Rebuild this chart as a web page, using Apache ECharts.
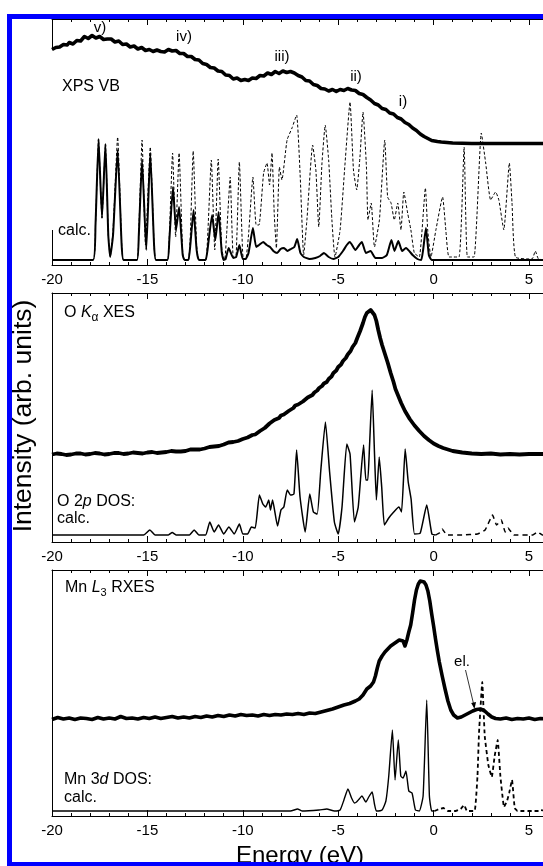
<!DOCTYPE html>
<html>
<head>
<meta charset="utf-8">
<script src="https://cdn.jsdelivr.net/npm/echarts@6/dist/echarts.min.js"></script>
<style>
  html, body { margin: 0; padding: 0; background: #fff; overflow: hidden; }
  #chart { width: 660px; height: 866px; }
</style>
</head>
<body>
<div id="chart"></div>
<script>
// ---- Energy axis (eV) ----
const energyMin = -20;
const energyMax = 10;
const energyStep = 5;

// ---- Top panel: valence-band photoemission and calculated spectra ----
const xpsVB = [[-20,215.5],[-19.9,217.5],[-19.8,217.5],[-19.7,216.5],[-19.6,218],[-19.5,220],[-19.4,220.5],[-19.3,219],[-19.2,220],[-19.1,222.5],[-19,222.5],[-18.9,221],[-18.8,222],[-18.7,224.5],[-18.6,225],[-18.5,224],[-18.4,226],[-18.3,228.5],[-18.2,228.5],[-18.1,226.5],[-18,227.5],[-17.9,229.5],[-17.8,229],[-17.7,227],[-17.6,228],[-17.5,228.5],[-17.4,227.5],[-17.3,225.5],[-17.2,226],[-17.1,226],[-17,224.5],[-16.9,226],[-16.8,225],[-16.7,223],[-16.6,222],[-16.5,224],[-16.4,222.5],[-16.3,220.5],[-16.2,219.5],[-16.1,221],[-16,220],[-15.9,218],[-15.8,217.5],[-15.7,219],[-15.6,218],[-15.5,216],[-15.4,216],[-15.3,217.5],[-15.2,216.5],[-15.1,214.5],[-15,215],[-14.9,215.5],[-14.8,214],[-14.7,213.5],[-14.6,215],[-14.5,215],[-14.4,213.5],[-14.3,213.5],[-14.2,214.5],[-14.1,213],[-14,214],[-13.9,215.5],[-13.8,215.5],[-13.7,214],[-13.6,214.5],[-13.5,214.5],[-13.4,213],[-13.3,211.5],[-13.2,211.5],[-13.1,211.5],[-13,210.5],[-12.9,208.5],[-12.8,208],[-12.7,208.5],[-12.6,207.5],[-12.5,205.5],[-12.4,205],[-12.3,205],[-12.2,203.5],[-12.1,201.5],[-12,200.5],[-11.9,200.5],[-11.8,199.5],[-11.7,197.5],[-11.6,197],[-11.5,197],[-11.4,196],[-11.3,194],[-11.2,193.5],[-11.1,193.5],[-11,192.5],[-10.9,190],[-10.8,189.5],[-10.7,189.5],[-10.6,188],[-10.5,186],[-10.4,186],[-10.3,187],[-10.2,186.5],[-10.1,184.5],[-10,184.5],[-9.9,185.5],[-9.8,185],[-9.7,184.5],[-9.6,185.5],[-9.5,187],[-9.4,187],[-9.3,186.5],[-9.2,188],[-9.1,189.5],[-9,189.5],[-8.9,189],[-8.8,190.5],[-8.7,192],[-8.6,192],[-8.5,190.5],[-8.4,191.5],[-8.3,193.5],[-8.2,193],[-8.1,191.5],[-8,192.5],[-7.9,194],[-7.8,193.5],[-7.7,192.5],[-7.6,194],[-7.5,193.5],[-7.4,192.5],[-7.3,192],[-7.2,191],[-7.1,189.5],[-7,188.5],[-6.9,188],[-6.8,186.5],[-6.7,184.5],[-6.6,183.5],[-6.5,184],[-6.4,182.5],[-6.3,180.5],[-6.2,180],[-6.1,179.5],[-6,178],[-5.9,176.5],[-5.8,176.5],[-5.7,176],[-5.6,175],[-5.5,174],[-5.4,175.5],[-5.3,175.5],[-5.2,174],[-5.1,173.5],[-5,174.5],[-4.9,175.5],[-4.8,175],[-4.7,174.5],[-4.6,175.5],[-4.5,176.5],[-4.4,176],[-4.3,175],[-4.2,174.5],[-4.1,174.5],[-4,173],[-3.9,171.5],[-3.8,171.5],[-3.7,170.5],[-3.6,169],[-3.5,167.5],[-3.4,166],[-3.3,165],[-3.2,163.5],[-3.1,161.5],[-3,160.5],[-2.9,160],[-2.8,158.5],[-2.7,156.5],[-2.6,156],[-2.5,155.5],[-2.4,154],[-2.3,152],[-2.2,151.5],[-2.1,151],[-2,149.5],[-1.9,147.5],[-1.8,147],[-1.7,146],[-1.6,144.5],[-1.5,142.5],[-1.4,141.5],[-1.3,140.5],[-1.2,139],[-1.1,137],[-1,135.5],[-0.9,134.5],[-0.8,132.5],[-0.7,131],[-0.6,130],[-0.5,128.5],[-0.4,127.5],[-0.3,126.5],[-0.2,125.5],[-0.1,124.5],[0,124.5],[0.2,123.5],[0.4,123],[0.7,122.5],[1,122],[1.5,121.7],[2,121.5],[3,121.5],[4,121.5],[5,121.5],[6,121.5]];

const vbCalcPartial = [[-20,5],[-17.85,5],[-17.72,40],[-17.56,126],[-17.38,47],[-17.2,121],[-17.05,30],[-16.95,8],[-16.8,30],[-16.56,115],[-16.35,20],[-16.25,5],[-15.55,5],[-15.45,30],[-15.28,105],[-15.06,15],[-14.85,112],[-14.65,20],[-14.55,5],[-13.95,5],[-13.85,25],[-13.66,78],[-13.5,35],[-13.34,58],[-13.15,10],[-13.05,5],[-12.85,5],[-12.75,20],[-12.58,55],[-12.42,15],[-12.3,5],[-11.95,5],[-11.85,15],[-11.61,50],[-11.44,25],[-11.27,53],[-11.1,12],[-11,5],[-10.9,6],[-10.74,17],[-10.5,7],[-10.35,8],[-10.18,20],[-10,6],[-9.85,6],[-9.7,12],[-9.47,37],[-9.3,18],[-9.15,20],[-8.93,23],[-8.75,20],[-8.57,18],[-8.4,14],[-8.2,12],[-8.02,16],[-7.84,17],[-7.66,14],[-7.48,16],[-7.3,18],[-7.15,26],[-6.98,12],[-6.8,8],[-6.5,6],[-6.2,7],[-5.95,9],[-5.75,12],[-5.5,8],[-5.25,6],[-5,8],[-4.75,14],[-4.55,20],[-4.39,23],[-4.1,15],[-3.9,20],[-3.76,23],[-3.55,12],[-3.3,14],[-3.05,7],[-2.7,7],[-2.45,10],[-2.21,25],[-2.05,14],[-1.85,24],[-1.65,14],[-1.45,17],[-1.1,10],[-0.85,6],[-0.65,5],[-0.55,15],[-0.4,37],[-0.25,10],[-0.1,5],[6,5]];

const vbCalcTotal = [[-20,5],[-17.85,5],[-17.72,40],[-17.56,126],[-17.38,47],[-17.2,121],[-17.05,30],[-16.95,8],[-16.8,35],[-16.56,128],[-16.35,22],[-16.25,5],[-15.55,5],[-15.45,35],[-15.28,125],[-15.1,20],[-14.85,118],[-14.65,20],[-14.55,5],[-13.95,5],[-13.85,30],[-13.68,112],[-13.52,28],[-13.34,112],[-13.15,12],[-13.05,5],[-12.85,5],[-12.75,30],[-12.6,114],[-12.42,20],[-12.3,5],[-11.95,5],[-11.85,25],[-11.65,105],[-11.47,15],[-11.29,106],[-11.1,15],[-10.95,5],[-10.85,30],[-10.66,88],[-10.5,8],[-10.35,10],[-10.18,103],[-10,10],[-9.85,5],[-9.7,30],[-9.47,88],[-9.3,40],[-9.15,40],[-8.91,92],[-8.73,102],[-8.6,80],[-8.47,112],[-8.35,50],[-8.24,17],[-8.08,98],[-7.95,85],[-7.68,125],[-7.42,137],[-7.18,150],[-6.99,88],[-6.81,10],[-6.64,45],[-6.34,120],[-6.17,95],[-6.02,38],[-5.85,102],[-5.68,140],[-5.5,105],[-5.33,45],[-5.17,8],[-4.9,35],[-4.64,102],[-4.38,163],[-4.2,95],[-4.03,75],[-3.86,108],[-3.7,153],[-3.52,98],[-3.44,45],[-3.27,62],[-3.1,18],[-2.84,45],[-2.56,125],[-2.41,68],[-2.23,62],[-2.06,45],[-1.88,62],[-1.71,35],[-1.56,73],[-1.36,52],[-1.19,35],[-1.01,12],[-0.75,8],[-0.43,77],[-0.31,35],[-0.14,8],[0.12,35],[0.47,68],[0.64,35],[0.81,8],[1.33,8],[1.6,118],[1.77,8],[2.12,8],[2.5,132],[2.73,102],[2.99,65],[3.25,73],[3.42,65],[3.68,35],[3.97,102],[4.11,62],[4.29,8],[5.16,6],[5.33,14],[5.5,6],[6,5]];

// ---- Middle panel: O K-alpha emission and O 2p density of states ----
const oKaXES = [[-20,87.5],[-19.75,88.5],[-19.5,88],[-19.25,87],[-19,87.5],[-18.75,88.5],[-18.5,88.5],[-18.25,87.5],[-18,88],[-17.75,89],[-17.5,88.5],[-17.25,87.5],[-17,88],[-16.75,89],[-16.5,89],[-16.25,88],[-16,88.5],[-15.75,89.5],[-15.5,89],[-15.25,88.5],[-15,89.5],[-14.75,90],[-14.5,89],[-14.25,89.5],[-14,90],[-13.75,91],[-13.5,90.5],[-13.25,90.5],[-13,91],[-12.75,92.5],[-12.5,92.5],[-12.25,92.5],[-12,93.5],[-11.75,95],[-11.5,95.5],[-11.25,96],[-11,97.5],[-10.75,99.5],[-10.5,100],[-10.25,101],[-10,103],[-9.75,104.5],[-9.5,107],[-9.35,107.5],[-9.25,109],[-9.1,111],[-9,112.5],[-8.85,114],[-8.75,116],[-8.6,118.5],[-8.5,120],[-8.35,122],[-8.25,123],[-8.1,124],[-8,126.5],[-7.85,127.5],[-7.75,129.5],[-7.6,131],[-7.5,133],[-7.35,134],[-7.25,136.5],[-7.1,137.5],[-7,139.5],[-6.85,140.5],[-6.75,142],[-6.6,144.5],[-6.5,146],[-6.35,147],[-6.25,149.5],[-6.1,151.5],[-6,154],[-5.85,156],[-5.75,158.5],[-5.6,160],[-5.5,163],[-5.35,165.5],[-5.25,169],[-5.1,171.5],[-5,175],[-4.85,177.5],[-4.75,181],[-4.6,184],[-4.5,187.5],[-4.35,191],[-4.25,195],[-4.1,199],[-4,204],[-3.85,211],[-3.7,219],[-3.6,225],[-3.5,229],[-3.4,231],[-3.3,232],[-3.2,231],[-3.1,227],[-3,221],[-2.9,212],[-2.8,204],[-2.7,197],[-2.55,188],[-2.4,179],[-2.25,169],[-2.1,160],[-2,153],[-1.85,146],[-1.7,139],[-1.5,131],[-1.25,123],[-1,116.5],[-0.75,111],[-0.5,106],[-0.25,102],[0,98.5],[0.25,96],[0.5,94],[0.75,92.5],[1,91],[1.5,89.5],[2,88.5],[2.5,88],[3,88.5],[3.5,87.5],[4,88],[4.5,87.5],[5,88],[6,88]];

const o2pDOS = [[-20,7],[-15.2,7],[-14.87,12],[-14.6,7],[-13.9,7],[-13.7,9.5],[-13.5,7],[-12.8,7],[-12.55,12],[-12.3,7],[-11.95,7],[-11.73,20],[-11.5,10],[-11.27,17],[-11,8],[-10.73,15],[-10.45,8],[-10.18,18],[-10,8],[-9.75,8],[-9.55,15],[-9.35,14],[-9.13,47],[-8.95,38],[-8.8,35],[-8.64,42],[-8.55,32],[-8.44,42],[-8.18,16],[-8,32],[-7.85,35],[-7.67,52],[-7.5,47],[-7.32,48],[-7.18,92],[-7,45],[-6.73,10],[-6.49,48],[-6.3,30],[-6.1,28],[-5.91,72],[-5.67,120],[-5.45,70],[-5.2,20],[-5,8],[-4.8,35],[-4.55,98],[-4.38,88],[-4.15,20],[-3.95,35],[-3.67,97],[-3.55,62],[-3.45,62],[-3.36,95],[-3.22,152],[-3.1,90],[-3,42],[-2.85,85],[-2.72,55],[-2.58,17],[-2.35,24],[-2.09,30],[-1.82,35],[-1.68,30],[-1.49,93],[-1.33,60],[-1.18,43],[-1,8],[-0.7,9],[-0.36,37],[-0.09,8],[0.1,7]];

const o2pDOSUnocc = [[0.1,7],[0.3,9],[0.45,13],[0.7,7],[1.5,7],[2.3,8],[2.7,12],[3.09,27],[3.3,17],[3.55,22],[3.75,10],[3.9,14],[4.2,7],[5.2,7],[5.45,10],[5.7,7],[6,7]];

// ---- Bottom panel: Mn L3 resonant emission and Mn 3d density of states ----
const mnL3RXES = [[-20,96.5],[-19.7,98.5],[-19.4,97],[-19.1,98],[-18.8,96.5],[-18.5,98],[-18.2,97.5],[-17.9,96.5],[-17.6,98.5],[-17.3,97],[-17,98],[-16.7,97],[-16.4,99.5],[-16.1,97.5],[-15.8,98],[-15.5,97],[-15.2,98.5],[-14.9,97.5],[-14.6,99],[-14.3,97.5],[-14,98.5],[-13.7,99.5],[-13.4,98],[-13.1,99],[-12.8,98],[-12.5,99.5],[-12.2,98.5],[-11.9,100],[-11.6,99],[-11.3,100.5],[-11,99.5],[-10.7,101],[-10.4,100],[-10.1,101.5],[-9.8,100.5],[-9.5,101],[-9.2,100],[-8.9,101.5],[-8.6,100.5],[-8.3,101.5],[-8,101],[-7.7,102],[-7.4,101.5],[-7.1,102.5],[-6.8,101.5],[-6.5,103],[-6.2,102.5],[-5.9,104],[-5.6,105.5],[-5.3,107],[-5,109],[-4.7,111],[-4.4,112.5],[-4.1,115],[-3.9,117],[-3.7,121],[-3.5,127],[-3.3,130],[-3.15,134],[-3.05,140],[-2.95,148],[-2.85,155],[-2.7,160],[-2.55,164],[-2.4,167],[-2.25,170],[-2.1,172],[-1.95,174],[-1.8,176],[-1.7,177],[-1.6,175],[-1.5,170],[-1.4,176],[-1.3,184],[-1.2,191],[-1.1,203],[-1,216],[-0.9,226],[-0.8,232],[-0.7,235],[-0.62,236.5],[-0.5,234],[-0.4,231],[-0.3,225],[-0.2,215],[-0.1,202],[0,190],[0.1,177],[0.2,165],[0.3,154],[0.45,140],[0.6,127],[0.75,115],[0.9,106],[1.05,101],[1.25,98],[1.45,99],[1.65,101],[1.85,103],[2.05,105],[2.25,106.5],[2.45,107],[2.65,105.5],[2.85,102],[3.05,99],[3.25,97.5],[3.5,97],[3.8,98],[4.1,96.5],[4.4,97.5],[4.7,97],[5,98],[5.3,96.5],[5.6,97.5],[6,97]];

const mn3dDOS = [[-20,5],[-7.5,5],[-7.13,7],[-6.9,5],[-6,6],[-5.6,7],[-5.2,5],[-4.9,6],[-4.7,16],[-4.49,27],[-4.3,18],[-4.15,13],[-4.04,14],[-3.9,17],[-3.76,20],[-3.55,14],[-3.4,19],[-3.22,24],[-3.1,12],[-3,5],[-2.7,6],[-2.5,15],[-2.35,40],[-2.16,86],[-2.02,36],[-1.85,76],[-1.72,40],[-1.6,38],[-1.45,45],[-1.3,25],[-1.13,23],[-0.95,6],[-0.75,5],[-0.55,20],[-0.36,116],[-0.22,20],[-0.1,5],[0.05,5]];

const mn3dDOSUnocc = [[0.05,5],[0.3,7],[0.51,8],[0.75,5],[1.15,5],[1.42,7],[1.6,11],[1.75,5],[2.15,5],[2.3,40],[2.38,83],[2.55,134],[2.68,80],[2.87,51],[3.05,39],[3.2,60],[3.36,76],[3.5,40],[3.69,9],[3.85,15],[3.96,23],[4.11,36],[4.25,8],[4.4,5],[5.5,5],[5.6,6],[6,5]];

// ---- Layout ----
const FONT = '"Liberation Sans", Arial, Helvetica, sans-serif';
const gridLeft = 52;
const pxPerEV = 19.08;
const gridWidth = (energyMax - energyMin) * pxPerEV;
const panels = [
  { top: 19, height: 246 },
  { top: 293, height: 249 },
  { top: 570, height: 246 }
];
// the top panel's left frame is only drawn above and below its label area
const topSpineGap = [50, 230];

const chart = echarts.init(document.getElementById('chart'), null, { renderer: 'canvas' });

function energyAxis(gi, pos) {
  return {
    type: 'value', gridIndex: gi, position: pos,
    min: energyMin, max: energyMax, interval: energyStep,
    axisLine: { show: true, onZero: false, lineStyle: { color: '#000', width: 1 } },
    axisTick: { show: true, inside: true, length: 6, lineStyle: { color: '#000', width: 1 } },
    minorTick: { show: true, splitNumber: 5, length: 3, lineStyle: { color: '#000', width: 1 } },
    axisLabel: {
      show: pos === 'bottom', color: '#000', fontSize: 15, fontFamily: FONT,
      margin: 7, showMaxLabel: false
    },
    splitLine: { show: false }, minorSplitLine: { show: false }
  };
}

const grids = panels.map(p => ({ left: gridLeft, top: p.top, width: gridWidth, height: p.height, containLabel: false }));
const xAxes = [];
const yAxes = [];
panels.forEach((p, i) => {
  xAxes.push(energyAxis(i, 'bottom'));
  xAxes.push(energyAxis(i, 'top'));
  yAxes.push({
    type: 'value', gridIndex: i, min: 0, max: p.height,
    axisLine: { show: i !== 0, onZero: false, lineStyle: { color: '#000', width: 1 } },
    axisTick: { show: false }, axisLabel: { show: false }, splitLine: { show: false }
  });
});

function line(data, gi, width, dashed, smooth) {
  return {
    type: 'line', data, xAxisIndex: gi * 2, yAxisIndex: gi,
    showSymbol: false, symbol: 'none', smooth: smooth || 0, animation: false,
    lineStyle: { color: '#000', width, type: dashed ? dashed : 'solid', join: 'round', cap: 'butt' },
    z: dashed ? 2 : 3
  };
}

const series = [
  line(vbCalcTotal, 0, 1, [3, 2], 0.15),
  line(vbCalcPartial, 0, 2, null, 0.15),
  line(xpsVB, 0, 3.6, null, 0),
  line(oKaXES, 1, 3.8, null, 0),
  line(o2pDOS, 1, 1.5, null, 0.15),
  line(o2pDOSUnocc, 1, 1.5, [5, 4], 0.1),
  line(mnL3RXES, 2, 3.6, null, 0),
  line(mn3dDOS, 2, 1.4, null, 0.15),
  line(mn3dDOSUnocc, 2, 1.8, [4, 3], 0.1)
];

// text helpers: mixed runs (italic letters, subscripts) laid out left to right
const measureCtx = document.createElement('canvas').getContext('2d');
function runs(x, y, parts) {
  const out = [];
  let cx = x;
  parts.forEach(p => {
    const size = p.size || 16;
    const style = p.italic ? 'italic ' : '';
    measureCtx.font = style + size + 'px ' + FONT;
    out.push({
      type: 'text', x: cx, y: y + (p.dy || 0), z: 20,
      style: {
        text: p.t, fill: '#000', fontSize: size, fontFamily: FONT,
        fontStyle: p.italic ? 'italic' : 'normal', align: 'left', verticalAlign: 'middle'
      }
    });
    cx += measureCtx.measureText(p.t).width;
  });
  return out;
}
function label(x, y, t, size, align) {
  return {
    type: 'text', x, y, z: 20,
    style: { text: t, fill: '#000', fontSize: size || 16, fontFamily: FONT, align: align || 'left', verticalAlign: 'middle' }
  };
}
function spine(y1, y2) {
  return {
    type: 'line', z: 5,
    shape: { x1: gridLeft + 0.5, y1, x2: gridLeft + 0.5, y2 },
    style: { stroke: '#000', lineWidth: 1 }
  };
}

const graphics = [].concat(
  // top panel left frame pieces
  [spine(panels[0].top, topSpineGap[0]), spine(topSpineGap[1], panels[0].top + panels[0].height)],
  // top panel annotations
  [label(62, 87, 'XPS VB'), label(58, 231, 'calc.'),
   label(100, 28, 'v)', 15, 'center'), label(184, 37, 'iv)', 15, 'center'),
   label(282, 57, 'iii)', 15, 'center'), label(356, 77, 'ii)', 15, 'center'),
   label(403, 102, 'i)', 15, 'center')],
  // middle panel annotations
  runs(64, 313, [{ t: 'O ' }, { t: 'K', italic: true }, { t: 'α', size: 12, dy: 5 }, { t: ' XES' }]),
  runs(57, 502, [{ t: 'O 2' }, { t: 'p', italic: true }, { t: ' DOS:' }]),
  [label(57, 519, 'calc.')],
  // bottom panel annotations
  runs(65, 588, [{ t: 'Mn ' }, { t: 'L', italic: true }, { t: '3', size: 11, dy: 5 }, { t: ' RXES' }]),
  runs(64, 780, [{ t: 'Mn 3' }, { t: 'd', italic: true }, { t: ' DOS:' }]),
  [label(64, 798, 'calc.'), label(462, 662, 'el.', 15, 'center')],
  [{
    type: 'line', z: 20,
    shape: { x1: 465.5, y1: 670, x2: 473.6, y2: 704 },
    style: { stroke: '#000', lineWidth: 0.8 }
  }, {
    type: 'polygon', z: 20,
    shape: { points: [[474.5, 709], [476, 702], [471.2, 703]] },
    style: { fill: '#000' }
  }],
  // axis titles
  [{
    type: 'text', x: 24, y: 416, rotation: Math.PI / 2, z: 20,
    style: { text: 'Intensity (arb. units)', fill: '#000', fontSize: 26.5, fontFamily: FONT, align: 'center', verticalAlign: 'middle' }
  }, {
    type: 'text', x: 300, y: 856, z: 20,
    style: { text: 'Energy (eV)', fill: '#000', fontSize: 24, fontFamily: FONT, align: 'center', verticalAlign: 'middle' }
  }],
  // blue frame
  [{
    type: 'rect', z: 30,
    shape: { x: 9.5, y: 16.5, width: 700, height: 848 },
    style: { fill: 'none', stroke: '#0000ff', lineWidth: 5 }
  }]
);

chart.setOption({
  backgroundColor: '#fff',
  animation: false,
  grid: grids,
  xAxis: xAxes,
  yAxis: yAxes,
  series,
  graphic: graphics
});
</script>
</body>
</html>
